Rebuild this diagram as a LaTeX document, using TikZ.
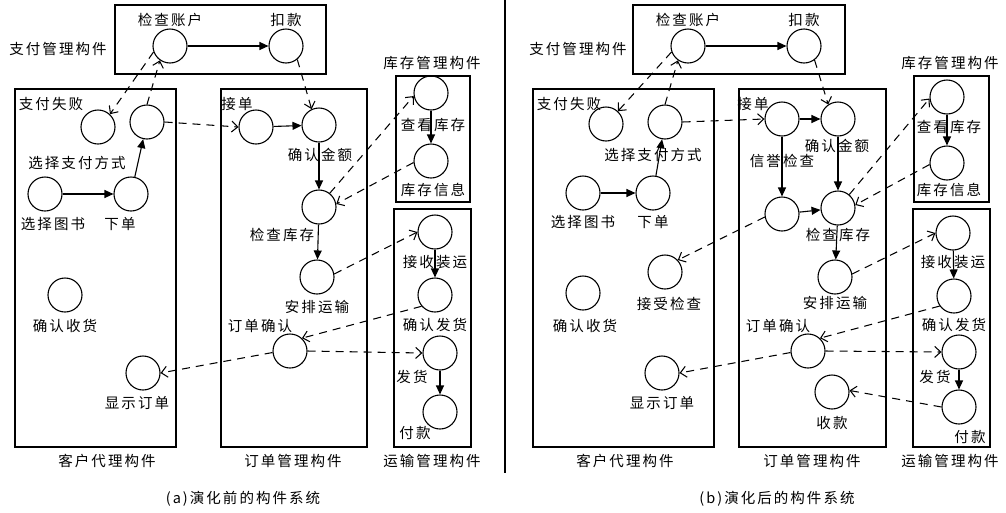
\documentclass[tikz,border=0pt]{standalone}
\usepackage{fontspec}
\setmainfont{Noto Sans CJK SC}[LetterSpace=14]
\usetikzlibrary{arrows.meta}
\tikzset{
  st/.style={circle,draw,line width=1.1pt,minimum size=34pt,inner sep=0pt},
  lb/.style={inner sep=0pt,font=\fontsize{14.5}{16}\selectfont,text=black},
  box/.style={draw,line width=1.1pt},
  sol/.style={line width=1.1pt,-{Triangle[length=9pt,width=8pt]}},
  dsh/.style={line width=1.05pt,dash pattern=on 8pt off 6pt,-{Straight Barb[length=6pt,width=11pt]}},
}
\begin{document}
\begin{tikzpicture}[x=1pt,y=-1pt]
\useasboundingbox (0,0) rectangle (1006,512);
\fill[white] (0,0) rectangle (1006,512);
% divider
\draw[line width=1.1pt] (505,0) -- (505,473);

% ================= LEFT (a) =================
\draw[box] (115,5) rectangle (326,74);
\draw[box] (15,89) rectangle (176,447);
\draw[box] (221,89) rectangle (367,447);
\draw[box] (396,76) rectangle (470,202);
\draw[box] (394,209) rectangle (471,447);

\node[lb] (La-pm) at (58,49) {支付管理构件};
\node[lb] (La-im) at (432,63) {库存管理构件};
\node[lb] (La-cm) at (107,461) {客户代理构件};
\node[lb] (La-om) at (293,461) {订单管理构件};
\node[lb] (La-tm) at (432,461) {运输管理构件};
\node[lb] (La-cap) at (243,499) {(a)演化前的构件系统};

\node[st] (L-ck) at (170,46) {};
\node[st] (L-ded) at (286,46) {};
\node[st] (L-fail) at (98,127) {};
\node[st] (L-pay) at (147,122) {};
\node[st] (L-book) at (45,194) {};
\node[st] (L-ord) at (131,194) {};
\node[st] (L-rcv) at (65,295) {};
\node[st] (L-disp) at (143,373) {};
\node[st] (L-acc) at (256,127) {};
\node[st] (L-amt) at (319,125) {};
\node[st] (L-chk) at (319,207) {};
\node[st] (L-arr) at (317,277) {};
\node[st] (L-oc) at (290,351) {};
\node[st] (L-view) at (431,93) {};
\node[st] (L-info) at (431,161) {};
\node[st] (L-recv) at (435,232) {};
\node[st] (L-cs) at (435,295) {};
\node[st] (L-ship) at (440,353) {};
\node[st] (L-fk) at (440,412) {};

\node[lb] (La-ck) at (170,20) {检查账户};
\node[lb] (La-ded) at (286,20) {扣款};
\node[lb] (La-fail) at (51,104) {支付失败};
\node[lb] (La-pay) at (77,163) {选择支付方式};
\node[lb] (La-book) at (53,224) {选择图书};
\node[lb] (La-ord) at (120,224) {下单};
\node[lb] (La-rcv) at (65,326) {确认收货};
\node[lb] (La-disp) at (137,403) {显示订单};
\node[lb] (La-acc) at (237,104) {接单};
\node[lb] (La-amt) at (320,155) {确认金额};
\node[lb] (La-chk) at (282,235) {检查库存};
\node[lb] (La-arr) at (317,307) {安排运输};
\node[lb] (La-oc) at (260,326) {订单确认};
\node[lb] (La-view) at (433,125) {查看库存};
\node[lb] (La-info) at (433,190) {库存信息};
\node[lb] (La-recv) at (435,262) {接收装运};
\node[lb] (La-cs) at (435,325) {确认发货};
\node[lb] (La-ship) at (412,377) {发货};
\node[lb] (La-fk) at (415,433) {付款};

\draw[sol] (L-ck) -- (L-ded);
\draw[sol] (L-book) -- (L-ord);
\draw[sol] (L-ord) -- (L-pay);
\draw[sol] (L-acc) -- (L-amt);
\draw[sol] (L-amt) -- (L-chk);
\draw[sol] (L-chk) -- (L-arr);
\draw[sol] (L-view) -- (L-info);
\draw[sol] (L-recv) -- (L-cs);
\draw[sol] (L-ship) -- (L-fk);

\draw[dsh] (L-ck.200) -- (L-fail.47);
\draw[dsh] (L-pay.90) -- (L-ck.235);
\draw[dsh] (L-pay.east) -- (L-acc.west);
\draw[dsh] (L-ded.310) -- (L-amt.115);
\draw[dsh] (L-chk.52) -- (L-view.190);
\draw[dsh] (L-info.185) -- (L-chk.10);
\draw[dsh] (L-arr.10) -- (L-recv.180);
\draw[dsh] (L-cs.220) -- (L-oc.47);
\draw[dsh] (L-oc.east) -- (L-ship.west);
\draw[dsh] (L-oc.185) -- (L-disp.east);

% ================= RIGHT (b) =================
\draw[box] (633,5) rectangle (845,74);
\draw[box] (533,89) rectangle (714,447);
\draw[box] (739,89) rectangle (886,447);
\draw[box] (914,76) rectangle (989,202);
\draw[box] (913,209) rectangle (990,447);

\node[lb] (Ra-pm) at (578,49) {支付管理构件};
\node[lb] (Ra-im) at (950,63) {库存管理构件};
\node[lb] (Ra-cm) at (625,461) {客户代理构件};
\node[lb] (Ra-om) at (812,461) {订单管理构件};
\node[lb] (Ra-tm) at (950,461) {运输管理构件};
\node[lb] (Ra-cap) at (777,499) {(b)演化后的构件系统};

\node[st] (R-ck) at (688,46) {};
\node[st] (R-ded) at (804,46) {};
\node[st] (R-fail) at (606,124) {};
\node[st] (R-pay) at (665,122) {};
\node[st] (R-book) at (583,193) {};
\node[st] (R-ord) at (653,193) {};
\node[st] (R-ach) at (665,272) {};
\node[st] (R-rcv) at (583,293) {};
\node[st] (R-disp) at (662,373) {};
\node[st] (R-acc) at (782,119) {};
\node[st] (R-amt) at (838,119) {};
\node[st] (R-cr) at (782,214) {};
\node[st] (R-chk) at (838,208) {};
\node[st] (R-arr) at (835,277) {};
\node[st] (R-oc) at (808,351) {};
\node[st] (R-sk) at (832,392) {};
\node[st] (R-view) at (947,97) {};
\node[st] (R-info) at (947,163) {};
\node[st] (R-recv) at (953,233) {};
\node[st] (R-cs) at (954,296) {};
\node[st] (R-ship) at (959,352) {};
\node[st] (R-fk) at (959,407) {};

\node[lb] (Ra-ck) at (688,20) {检查账户};
\node[lb] (Ra-ded) at (804,20) {扣款};
\node[lb] (Ra-fail) at (569,104) {支付失败};
\node[lb] (Ra-pay) at (653,155) {选择支付方式};
\node[lb] (Ra-book) at (583,222) {选择图书};
\node[lb] (Ra-ord) at (653,222) {下单};
\node[lb] (Ra-ach) at (669,304) {接受检查};
\node[lb] (Ra-rcv) at (585,326) {确认收货};
\node[lb] (Ra-disp) at (662,403) {显示订单};
\node[lb] (Ra-acc) at (753,104) {接单};
\node[lb] (Ra-amt) at (837,146) {确认金额};
\node[lb] (Ra-cr) at (782,161) {信誉检查};
\node[lb] (Ra-chk) at (838,235) {检查库存};
\node[lb] (Ra-arr) at (835,303) {安排运输};
\node[lb] (Ra-oc) at (778,326) {订单确认};
\node[lb] (Ra-sk) at (832,423) {收款};
\node[lb] (Ra-view) at (949,127) {查看库存};
\node[lb] (Ra-info) at (949,190) {库存信息};
\node[lb] (Ra-recv) at (953,262) {接收装运};
\node[lb] (Ra-cs) at (954,325) {确认发货};
\node[lb] (Ra-ship) at (935,377) {发货};
\node[lb] (Ra-fk) at (970,437) {付款};

\draw[sol] (R-ck) -- (R-ded);
\draw[sol] (R-book) -- (R-ord);
\draw[sol] (R-ord) -- (R-pay);
\draw[sol] (R-acc) -- (R-amt);
\draw[sol] (R-acc) -- (R-cr);
\draw[sol] (R-cr) -- (R-chk);
\draw[sol] (R-amt) -- (R-chk);
\draw[sol] (R-chk) -- (R-arr);
\draw[sol] (R-view) -- (R-info);
\draw[sol] (R-recv) -- (R-cs);
\draw[sol] (R-ship) -- (R-fk);

\draw[dsh] (R-ck.200) -- (R-fail.47);
\draw[dsh] (R-pay.90) -- (R-ck.235);
\draw[dsh] (R-pay.east) -- (R-acc.west);
\draw[dsh] (R-ded.307) -- (R-amt.124);
\draw[dsh] (R-cr.190) -- (R-ach.43);
\draw[dsh] (R-chk.50) -- (R-view.185);
\draw[dsh] (R-info.185) -- (R-chk.10);
\draw[dsh] (R-arr.10) -- (R-recv.180);
\draw[dsh] (R-cs.215) -- (R-oc.47);
\draw[dsh] (R-oc.east) -- (R-ship.west);
\draw[dsh] (R-oc.185) -- (R-disp.east);
\draw[dsh] (R-fk.180) -- (R-sk.5);
\end{tikzpicture}
\end{document}
